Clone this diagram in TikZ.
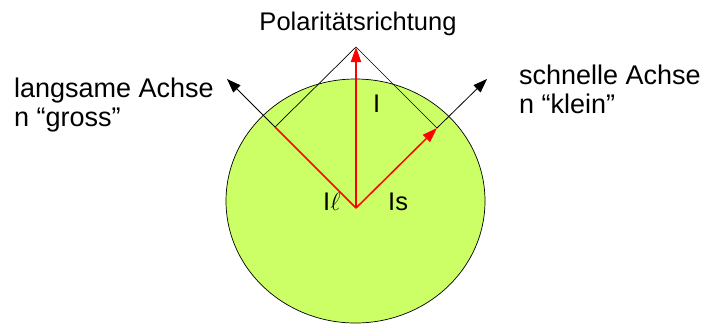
\documentclass[tikz,border=0pt]{standalone}
\usepackage{fontspec}
\setmainfont{Liberation Sans}
\usetikzlibrary{arrows.meta, positioning}
\definecolor{plategreen}{HTML}{CCFF66}
\tikzset{
  axis/.style={draw=black, line width=0.8pt, -{Triangle[length=14pt,width=10pt]}},
  beam/.style={draw=red, line width=1.5pt},
  lbl/.style={anchor=base west, inner sep=0pt, font=\fontsize{25.5}{29}\selectfont},
  axlbl/.style={lbl, font=\fontsize{27}{29}\selectfont},
}
\begin{document}
\begin{tikzpicture}[x=1pt,y=-1pt]
\useasboundingbox (0,0) rectangle (709,325);
% crystal plate
\draw[fill=plategreen, line width=0.7pt] (355.5,201) ellipse [x radius=129.5, y radius=122];
% corner points
\coordinate (O) at (356,208);
\coordinate (top) at (356,47);
\coordinate (lc) at (275,127);
\coordinate (sc) at (437,128);
\coordinate (ltip) at (227,79);
\coordinate (stip) at (487,79);
% projection lines
\draw[line width=0.7pt] (lc) -- (top) -- (sc);
% axes
\draw[axis] (lc) -- (ltip);
\draw[axis] (sc) -- (stip);
% components
\draw[beam] (O) -- (lc);
\draw[beam, -{Triangle[length=15pt,width=10pt]}] (O) -- (sc);
\draw[beam, line width=2pt, -{Triangle[length=15pt,width=10pt]}] (O) -- (top);
% labels
\node[lbl, anchor=base] (pol) at (358,30) {Polaritätsrichtung};
\node[axlbl] (slow) at (14,97) {langsame Achse};
\node[axlbl] (slown) at ([yshift=-29pt]slow.base west) {n “gross”};
\node[axlbl] (fast) at (519,84) {schnelle Achse};
\node[axlbl] (fastn) at ([yshift=-29pt]fast.base west) {n “klein”};
\node[lbl] (itot) at (373,112) {I};
\node[lbl] (il) at (323,210) {I$\ell$};
\node[lbl] (is) at (388,210) {Is};
\end{tikzpicture}
\end{document}
